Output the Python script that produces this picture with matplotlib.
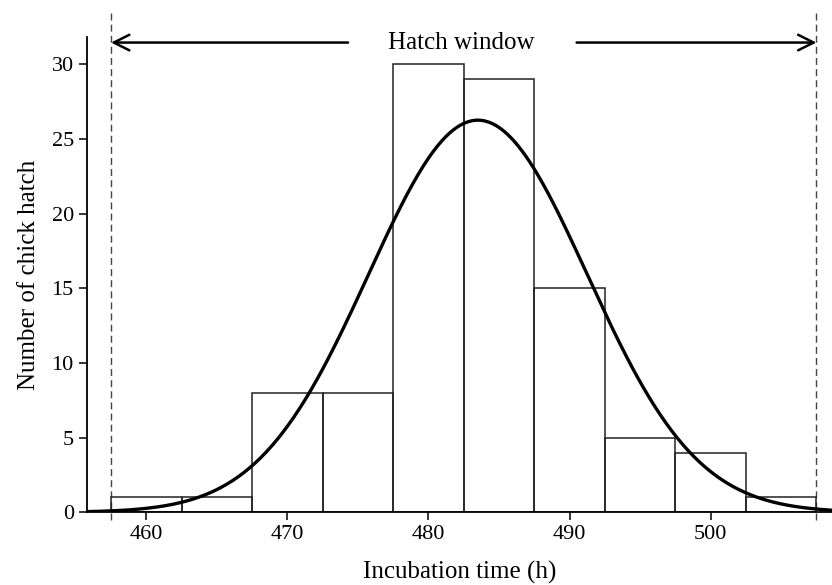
import numpy as np
import matplotlib.pyplot as plt

# histogram data (bin centres in hours, counts of chicks)
bin_centers = [460, 465, 470, 475, 480, 485, 490, 495, 500, 505]
counts = [1, 1, 8, 8, 30, 29, 15, 5, 4, 1]
bin_width = 5

# fitted normal curve parameters
fit_mean = 483.5
fit_sd = 7.75

window_start = 457.5
window_end = 507.5

plt.rcParams['font.family'] = ['Liberation Serif', 'DejaVu Serif']

fig = plt.figure(figsize=(8.32, 5.85), dpi=100)
ax = fig.add_axes([0.1046, 0.1243, 0.8954, 0.8119])

ax.bar(bin_centers, counts, width=bin_width, fill=False,
       edgecolor='#222222', linewidth=1.1, zorder=2)

n_total = sum(counts)
xs = np.linspace(455.8, 508.6, 400)
ys = n_total * bin_width / (fit_sd * np.sqrt(2 * np.pi)) * np.exp(-(xs - fit_mean) ** 2 / (2 * fit_sd ** 2))
ax.plot(xs, ys, color='black', linewidth=2.4, zorder=3)

# hatch window markers
for xv in (window_start, window_end):
    ax.plot([xv, xv], [-0.5, 33.45], color='#444444', linestyle=(0, (5, 3)),
            linewidth=1.0, clip_on=False, zorder=1)

arrow_y = 31.45
ax.annotate('', xy=(window_start, arrow_y), xytext=(474.3, arrow_y),
            arrowprops=dict(arrowstyle='->', lw=1.8, color='black',
                            mutation_scale=28, shrinkA=0, shrinkB=0),
            annotation_clip=False)
ax.annotate('', xy=(window_end, arrow_y), xytext=(490.5, arrow_y),
            arrowprops=dict(arrowstyle='->', lw=1.8, color='black',
                            mutation_scale=28, shrinkA=0, shrinkB=0),
            annotation_clip=False)
ax.text(482.3, arrow_y, 'Hatch window', ha='center', va='center', fontsize=18)

ax.set_xlim(455.8, 508.6)
ax.set_ylim(0, 31.8)
ax.set_xticks([460, 470, 480, 490, 500])
ax.set_yticks([0, 5, 10, 15, 20, 25, 30])
ax.set_xlabel('Incubation time (h)', fontsize=18, labelpad=12)
ax.set_ylabel('Number of chick hatch', fontsize=18, labelpad=8)

for side in ('top', 'right'):
    ax.spines[side].set_visible(False)
for side in ('left', 'bottom'):
    ax.spines[side].set_linewidth(1.3)
ax.tick_params(axis='both', direction='out', length=6, width=1.1, labelsize=16)

fig.savefig('out.png', dpi=100)
